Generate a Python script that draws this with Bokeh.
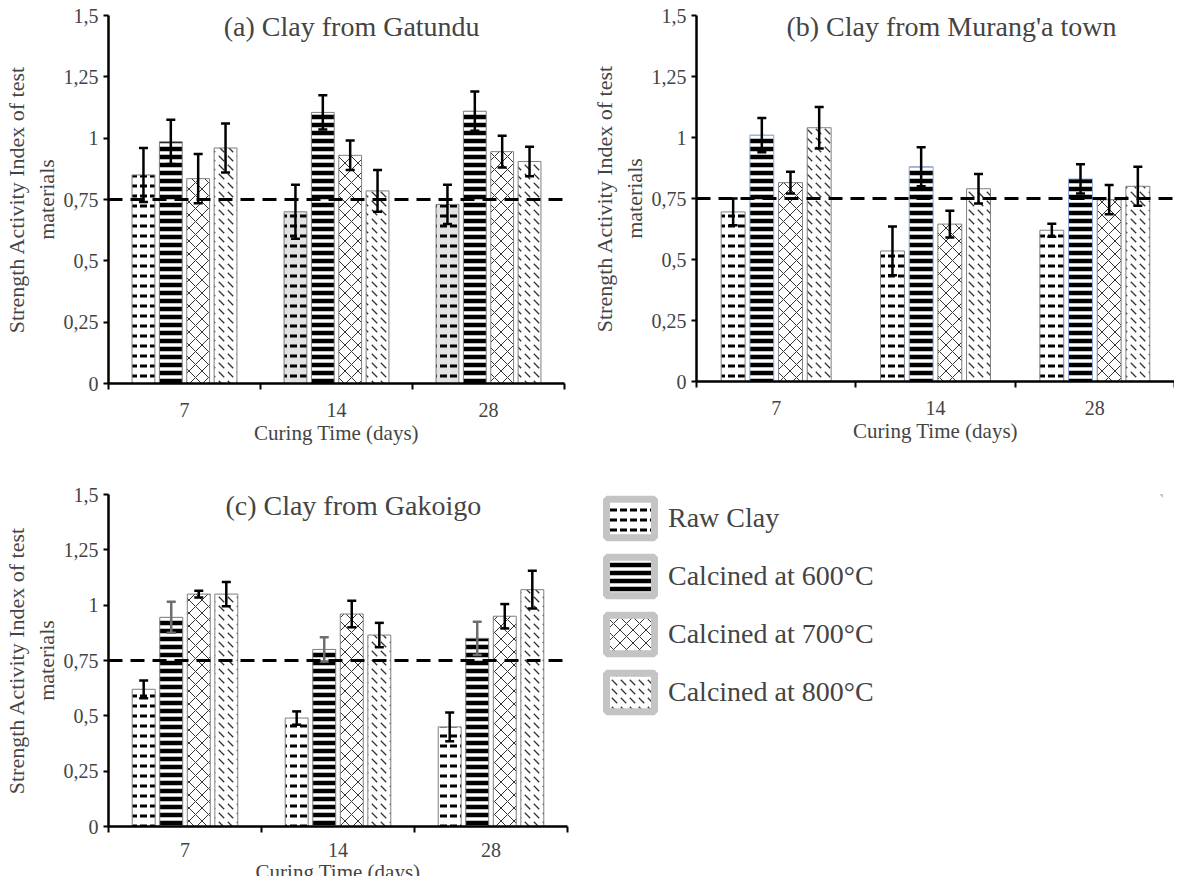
from bokeh.plotting import figure
from bokeh.models import (ColumnDataSource, Range1d, LinearAxis,
                          FixedTicker, CustomJSTickFormatter, Span, Whisker, TeeHead, Label,
                          Legend, LegendItem)
from bokeh.transform import dodge
from bokeh.layouts import row, column
from bokeh.embed import file_html
from bokeh.resources import INLINE

# ---------------- data ----------------
days = ["7", "14", "28"]
series = ["Raw Clay", "Calcined at 600°C", "Calcined at 700°C", "Calcined at 800°C"]
y_ticks = [0, 0.25, 0.5, 0.75, 1, 1.25, 1.5]
threshold = 0.75

titles = ["(a) Clay from Gatundu", "(b) Clay from Murang'a town", "(c) Clay from Gakoigo"]

# (a) Gatundu
gatundu_raw = [0.85, 0.70, 0.73]
gatundu_600 = [0.985, 1.105, 1.11]
gatundu_700 = [0.835, 0.93, 0.945]
gatundu_800 = [0.96, 0.785, 0.905]
gatundu_raw_err = [0.11, 0.11, 0.08]
gatundu_600_err = [0.09, 0.07, 0.08]
gatundu_700_err = [0.10, 0.06, 0.065]
gatundu_800_err = [0.10, 0.085, 0.06]

# (b) Murang'a town
muranga_raw = [0.695, 0.535, 0.62]
muranga_600 = [1.01, 0.88, 0.83]
muranga_700 = [0.815, 0.645, 0.745]
muranga_800 = [1.04, 0.79, 0.80]
muranga_raw_err = [0.055, 0.10, 0.027]
muranga_600_err = [0.07, 0.08, 0.06]
muranga_700_err = [0.045, 0.055, 0.06]
muranga_800_err = [0.085, 0.06, 0.08]

# (c) Gakoigo
gakoigo_raw = [0.62, 0.49, 0.45]
gakoigo_600 = [0.945, 0.80, 0.85]
gakoigo_700 = [1.05, 0.96, 0.95]
gakoigo_800 = [1.05, 0.865, 1.07]
gakoigo_raw_err = [0.04, 0.03, 0.065]
gakoigo_600_err = [0.07, 0.055, 0.075]
gakoigo_700_err = [0.015, 0.06, 0.055]
gakoigo_800_err = [0.055, 0.055, 0.085]

# ---------------- styling ----------------
FONT = "Liberation Serif"
STYLES = [
    dict(hatch_pattern="horizontal_dash", hatch_scale=10, hatch_weight=3, hatch_color="black"),
    dict(hatch_pattern="horizontal_line", hatch_scale=8, hatch_weight=4.5, hatch_color="black"),
    dict(hatch_pattern="diagonal_cross", hatch_scale=13, hatch_weight=1, hatch_color="#333333"),
    dict(hatch_pattern="left_diagonal_dash", hatch_scale=9, hatch_weight=1.3, hatch_color="#333333"),
]
OFFSETS = [-0.27, -0.09, 0.09, 0.27]
BAR_W = 0.15
GREY = "#7f7f7f"

# category slots on the x scale: one unit per curing time
slots = [i + 0.5 for i in range(len(days))]
edges = list(range(len(days) + 1))


def make_panel(title, values, errors, frame, borders, bar_lines, whisk_colors,
               raw_fill, bottom_std, title_y):
    fw, fh = frame
    bl, br, bt, bb = borders
    p = figure(x_range=Range1d(0, len(days)), y_range=Range1d(0, 1.5),
               frame_width=fw, frame_height=fh, output_backend="svg", toolbar_location=None,
               x_axis_location=None, y_axis_location=None,
               min_border_left=bl, min_border_right=br, min_border_top=bt, min_border_bottom=bb)
    p.outline_line_color = None
    p.grid.visible = False

    yaxis = LinearAxis(ticker=FixedTicker(ticks=y_ticks, minor_ticks=[]),
                       formatter=CustomJSTickFormatter(code="return String(tick).replace('.', ',')"),
                       axis_label="Strength Activity Index of test\nmaterials",
                       axis_label_text_font=FONT, axis_label_text_font_size="22px",
                       axis_label_text_font_style="normal", axis_label_standoff=2,
                       major_label_text_font=FONT, major_label_text_font_size="20px",
                       major_label_standoff=5,
                       axis_line_width=2.5, axis_line_color="black",
                       major_tick_out=5, major_tick_in=0, major_tick_line_width=2,
                       minor_tick_line_color=None)
    p.add_layout(yaxis, "left")

    xaxis = LinearAxis(ticker=FixedTicker(ticks=slots, minor_ticks=edges),
                       formatter=CustomJSTickFormatter(args=dict(labels=days),
                                                       code="return labels[Math.floor(tick)]"),
                       major_label_text_font=FONT, major_label_text_font_size="20px",
                       major_label_standoff=bottom_std[0],
                       axis_label="Curing Time (days)",
                       axis_label_text_font=FONT, axis_label_text_font_size="21px",
                       axis_label_text_font_style="normal",
                       axis_label_standoff=bottom_std[1],
                       axis_line_width=2.5, axis_line_color="black",
                       major_tick_line_color=None, major_tick_out=0, major_tick_in=0,
                       minor_tick_out=6, minor_tick_in=0, minor_tick_line_width=2,
                       minor_tick_line_color="black")
    p.add_layout(xaxis, "below")

    for i in range(len(series)):
        v = values[i]
        e = errors[i]
        fills = raw_fill if i == 0 else ["white"] * len(days)
        src = ColumnDataSource(dict(slot=slots, value=v, fill=fills,
                                    upper=[a + b for a, b in zip(v, e)],
                                    lower=[a - b for a, b in zip(v, e)]))
        xs = dodge("slot", OFFSETS[i])
        p.vbar(x=xs, top="value", width=BAR_W, source=src, fill_color="fill",
               line_color=bar_lines[i], line_width=1, **STYLES[i])
        wc = whisk_colors[i]
        w = Whisker(base=xs, upper="upper", lower="lower", source=src,
                    line_width=2.5, line_color=wc, level="overlay",
                    upper_head=TeeHead(size=9, line_width=2.5, line_color=wc),
                    lower_head=TeeHead(size=9, line_width=2.5, line_color=wc))
        p.add_layout(w)

    p.add_layout(Span(location=threshold, dimension="width", line_color="black",
                      line_width=3, line_dash="14 8", level="overlay"))
    p.add_layout(Label(x=1.6, y=title_y, text=title, text_font=FONT, text_font_size="28px",
                       text_align="center", text_baseline="middle"))
    return p


white3 = ["white"] * 3
pa = make_panel(titles[0],
                [gatundu_raw, gatundu_600, gatundu_700, gatundu_800],
                [gatundu_raw_err, gatundu_600_err, gatundu_700_err, gatundu_800_err],
                (456, 368), (103, 24, 12, 70), [GREY] * 4, ["black"] * 4,
                ["white", "#e2e2e2", "#e2e2e2"], (13, 1), 1.455)
pb = make_panel(titles[1],
                [muranga_raw, muranga_600, muranga_700, muranga_800],
                [muranga_raw_err, muranga_600_err, muranga_700_err, muranga_800_err],
                (478, 366), (103, 0, 15, 69), [GREY, "#8faadc", GREY, GREY], ["black"] * 4,
                white3, (13, 1), 1.455)
pc = make_panel(titles[2],
                [gakoigo_raw, gakoigo_600, gakoigo_700, gakoigo_800],
                [gakoigo_raw_err, gakoigo_600_err, gakoigo_700_err, gakoigo_800_err],
                (459, 332), (103, 21, 32, 62), [GREY] * 4, ["black", "#6e6e6e", "black", "black"],
                white3, (10, 0), 1.45)

# legend panel (swatch renderers sit outside the visible range)
pl = figure(width=575, height=420, x_range=Range1d(0, 1), y_range=Range1d(0, 1),
            output_backend="svg", toolbar_location=None,
            x_axis_location=None, y_axis_location=None,
            min_border_left=12, min_border_top=44, min_border_right=0, min_border_bottom=0)
pl.outline_line_color = None
pl.grid.visible = False
items = []
for i, name in enumerate(series):
    r = pl.vbar(x=[5], top=[5], bottom=[4], width=0.1, fill_color="white",
                line_color="#c4c4c4", line_width=7, **STYLES[i])
    items.append(LegendItem(label=name, renderers=[r]))
leg = Legend(items=items, location="top_left", glyph_width=60, glyph_height=48, spacing=10,
             padding=0, margin=0, label_text_font=FONT, label_text_font_size="28px",
             label_standoff=8, border_line_color=None, background_fill_alpha=0)
pl.add_layout(leg)

layout = column(row(pa, pb, spacing=0), row(pc, pl, spacing=0), spacing=0)

with open("out.html", "w") as f:
    f.write(file_html(layout, INLINE))
